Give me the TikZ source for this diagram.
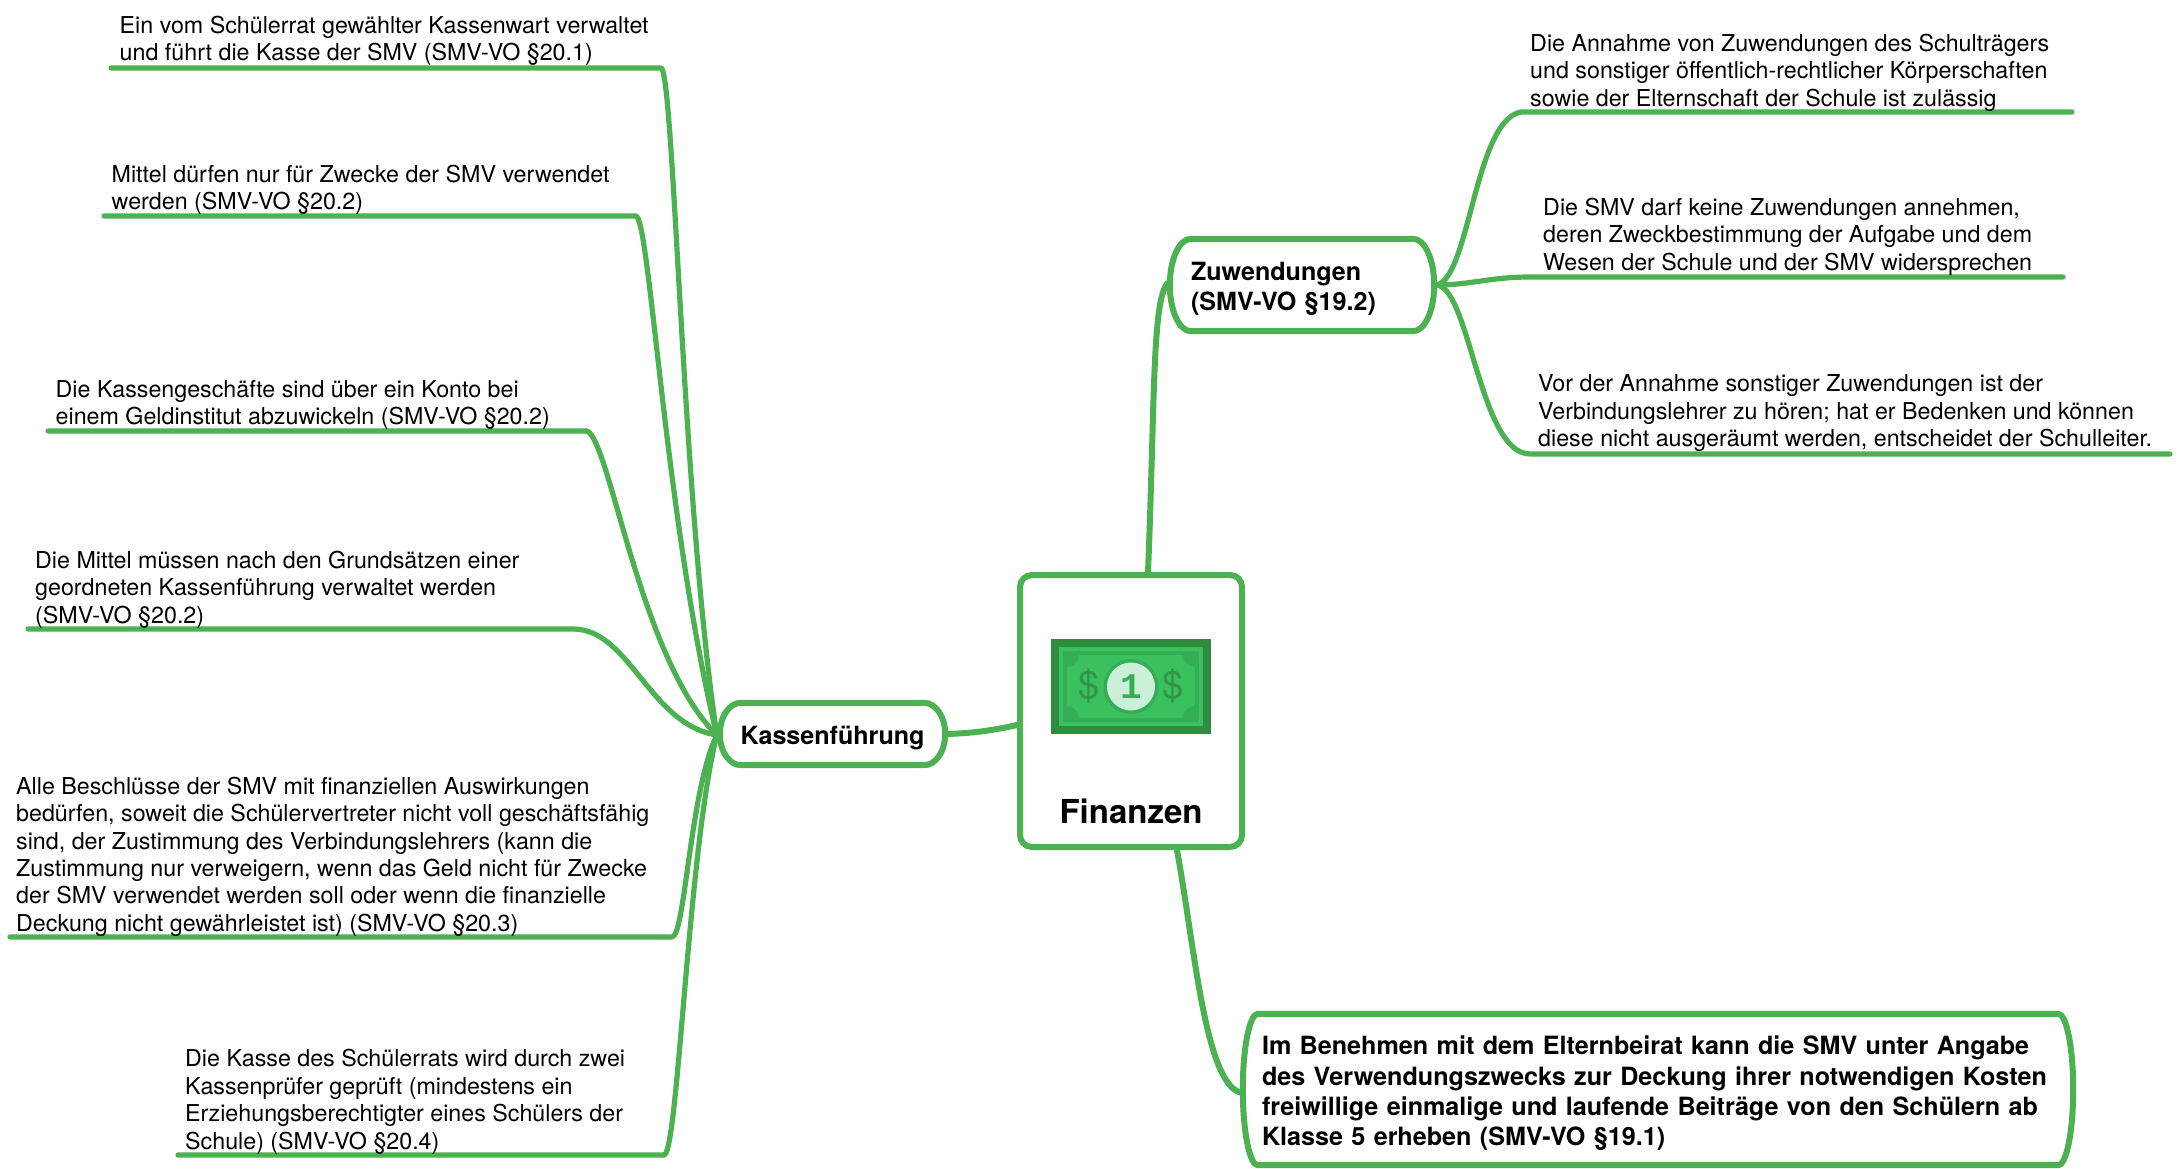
\documentclass[tikz,border=0pt]{standalone}
\usepackage{fontspec}
\setmainfont{TeX Gyre Heros}
\newfontfamily\billmono{Liberation Mono}
\usetikzlibrary{calc,backgrounds}
\definecolor{mmgreen}{HTML}{4CB151}
\definecolor{billdark}{HTML}{2F8C3F}
\definecolor{billmain}{HTML}{3AC05F}
\definecolor{billband}{HTML}{34AE54}
\definecolor{billlight}{HTML}{CBEFD7}
\newcommand\topstrut{\leavevmode\vrule height .98\baselineskip depth 0pt width 0pt\relax}
\newcommand\botstrut{\vrule height 0pt depth .27\baselineskip width 0pt\relax}
\newcommand\leafstrut{\leavevmode\vrule height .7\baselineskip depth 0pt width 0pt\relax}
\tikzset{
  leaftext/.style={anchor=north west,inner sep=0pt,align=left,yshift=17.2pt,
    font=\fontsize{23.25}{27.4}\selectfont,execute at begin node=\leafstrut},
  boxtext/.style={inner ysep=0pt,align=left,
    font=\bfseries\fontsize{25.1}{30}\selectfont,
    execute at begin node=\topstrut,execute at end node=\botstrut},
  conn/.style={draw=mmgreen,line width=5.2pt,line cap=round,line join=round},
  mainconn/.style={draw=mmgreen,line width=6pt,line cap=round},
  boxline/.style={draw=mmgreen,line width=6pt,fill=white},
  rootbox/.style={draw=mmgreen,line width=6pt,fill=white,rounded corners=12pt,inner sep=0pt,
    minimum width=222pt,minimum height=272pt},
}
\newcommand\elbox[2]{%
  \draw[boxline] ([xshift=#2]#1.north west) -- ([xshift=-#2]#1.north east)
    .. controls ([xshift={-.45*#2}]#1.north east) and ($(#1.north east)!.45!(#1.east)$) .. (#1.east)
    .. controls ($(#1.south east)!.45!(#1.east)$) and ([xshift={-.45*#2}]#1.south east) .. ([xshift=-#2]#1.south east)
    -- ([xshift=#2]#1.south west)
    .. controls ([xshift={.45*#2}]#1.south west) and ($(#1.south west)!.45!(#1.west)$) .. (#1.west)
    .. controls ($(#1.north west)!.45!(#1.west)$) and ([xshift={.45*#2}]#1.north west) .. ([xshift=#2]#1.north west) -- cycle;}
\begin{document}
\begin{tikzpicture}[x=1pt,y=-1pt]
\useasboundingbox (0,0) rectangle (2179,1169);

% central box
\node[rootbox] (root) at (1131,711) {};
\node[anchor=base,inner sep=0pt,font=\bfseries\fontsize{33}{38}\selectfont] (rootlabel) at (1131,823) {Finanzen};

% banknote
\fill[billdark] (1051,639) rectangle (1211,734);
\fill[billmain] (1059,647) rectangle (1203,726);
\fill[billband] (1063,651) rectangle (1199,722);
\fill[billmain] (1067,655) rectangle (1195,718);
\begin{scope}
\clip (1067,655) rectangle (1195,718);
\fill[billband] (1067,655) circle (12);
\fill[billband] (1195,655) circle (12);
\fill[billband] (1067,718) circle (12);
\fill[billband] (1195,718) circle (12);
\end{scope}
\fill[billband] (1131,686.5) circle (27.5);
\fill[billlight] (1131,686.5) circle (24);
\node[inner sep=0pt,text=billband,font=\billmono\bfseries\fontsize{36}{36}\selectfont] (billone) at (1131,687) {1};
\node[inner sep=0pt,text=billdark!70!billband,font=\fontsize{38}{38}\selectfont] (billdl) at (1089,686) {\$};
\node[inner sep=0pt,text=billdark!70!billband,font=\fontsize{38}{38}\selectfont] (billdr) at (1173,686) {\$};

% branch boxes
\node[boxtext,minimum width=225pt,minimum height=62pt,inner xsep=0pt] (kasse) at (832.5,734) {Kassenführung};
\node[boxtext,minimum height=92pt,inner xsep=21pt,text width=222pt] (zuw) at (1302,285) {Zuwendungen\\(SMV-VO §19.2)};
\node[boxtext,minimum height=151pt,inner xsep=19pt,text width=792pt,font=\bfseries\fontsize{25.15}{30.4}\selectfont] (beitrag) at (1658,1089.5)
  {Im Benehmen mit dem Elternbeirat kann die SMV unter Angabe\\des Verwendungszwecks zur Deckung ihrer notwendigen Kosten\\freiwillige einmalige und laufende Beiträge von den Schülern ab\\Klasse 5 erheben (SMV-VO §19.1)};

% leaf texts
\node[leaftext] (l1) at (119.5,33) {Ein vom Schülerrat gewählter Kassenwart verwaltet\\und führt die Kasse der SMV (SMV-VO §20.1)};
\node[leaftext] (l2) at (111.5,181.7) {Mittel dürfen nur für Zwecke der SMV verwendet\\werden (SMV-VO §20.2)};
\node[leaftext] (l3) at (55.5,397) {Die Kassengeschäfte sind über ein Konto bei\\einem Geldinstitut abzuwickeln (SMV-VO §20.2)};
\node[leaftext] (l4) at (35,568) {Die Mittel müssen nach den Grundsätzen einer\\geordneten Kassenführung verwaltet werden\\(SMV-VO §20.2)};
\node[leaftext] (l5) at (16,794) {Alle Beschlüsse der SMV mit finanziellen Auswirkungen\\bedürfen, soweit die Schülervertreter nicht voll geschäftsfähig\\sind, der Zustimmung des Verbindungslehrers (kann die\\Zustimmung nur verweigern, wenn das Geld nicht für Zwecke\\der SMV verwendet werden soll oder wenn die finanzielle\\Deckung nicht gewährleistet ist) (SMV-VO §20.3)};
\node[leaftext] (l6) at (185,1066.5) {Die Kasse des Schülerrats wird durch zwei\\Kassenprüfer geprüft (mindestens ein\\Erziehungsberechtigter eines Schülers der\\Schule) (SMV-VO §20.4)};
\node[leaftext] (r1) at (1530,51) {Die Annahme von Zuwendungen des Schulträgers\\und sonstiger öffentlich-rechtlicher Körperschaften\\sowie der Elternschaft der Schule ist zulässig};
\node[leaftext] (r2) at (1543,215) {Die SMV darf keine Zuwendungen annehmen,\\deren Zweckbestimmung der Aufgabe und dem\\Wesen der Schule und der SMV widersprechen};
\node[leaftext] (r3) at (1538,392) {Vor der Annahme sonstiger Zuwendungen ist der\\Verbindungslehrer zu hören; hat er Bedenken und können\\diese nicht ausgeräumt werden, entscheidet der Schulleiter.};

% connector ends
\coordinate (l1a) at (111,68); \coordinate (l1b) at (661,68);
\coordinate (l2a) at (104,216); \coordinate (l2b) at (636,216);
\coordinate (l3a) at (48,431); \coordinate (l3b) at (587,431);
\coordinate (l4a) at (28,629); \coordinate (l4b) at (574,629);
\coordinate (l5a) at (10,937); \coordinate (l5b) at (672,937);
\coordinate (l6a) at (178,1155); \coordinate (l6b) at (664,1155);
\coordinate (r1a) at (2072,112); \coordinate (r1b) at (1521,112);
\coordinate (r2a) at (2063,277); \coordinate (r2b) at (1530,277);
\coordinate (r3a) at (2170,454); \coordinate (r3b) at (1530,454);
\coordinate (khub) at ([xshift=-3pt,yshift=-1pt]kasse.west);
\coordinate (zhub) at ([xshift=3pt]zuw.east);

\begin{pgfonlayer}{background}
\fill[white] (0,0) rectangle (2179,1169);
\draw[mainconn] ([xshift=17pt]root.north) .. controls (1155,400) and (1152,300) .. ([yshift=2pt,xshift=-2pt]zuw.west);
\draw[mainconn] ([yshift=-14pt]root.west) .. controls (995,730) and (975,733) .. ([xshift=3pt]kasse.east);
\draw[mainconn] ([xshift=46pt]root.south) .. controls (1195,950) and (1205,1080) .. ([yshift=-3pt,xshift=-3pt]beitrag.west);
\draw[conn] (l1a) -- (l1b) .. controls (674,70) and (682,500) .. (khub);
\draw[conn] (l2a) -- (l2b) .. controls (650,220) and (665,520) .. (khub);
\draw[conn] (l3a) -- (l3b) .. controls (610,440) and (640,660) .. (khub);
\draw[conn] (l4a) -- (l4b) .. controls (630,630) and (650,725) .. (khub);
\draw[conn] (l5a) -- (l5b) .. controls (685,937) and (690,790) .. (khub);
\draw[conn] (l6a) -- (l6b) .. controls (678,1155) and (688,850) .. (khub);
\draw[conn] (r1a) -- (r1b) .. controls (1475,120) and (1470,275) .. (zhub);
\draw[conn] (r2a) -- (r2b) .. controls (1490,277) and (1470,285) .. (zhub);
\draw[conn] (r3a) -- (r3b) .. controls (1480,454) and (1470,290) .. (zhub);
\elbox{kasse}{21}
\elbox{zuw}{21}
\elbox{beitrag}{15}
\end{pgfonlayer}
\end{tikzpicture}
\end{document}
